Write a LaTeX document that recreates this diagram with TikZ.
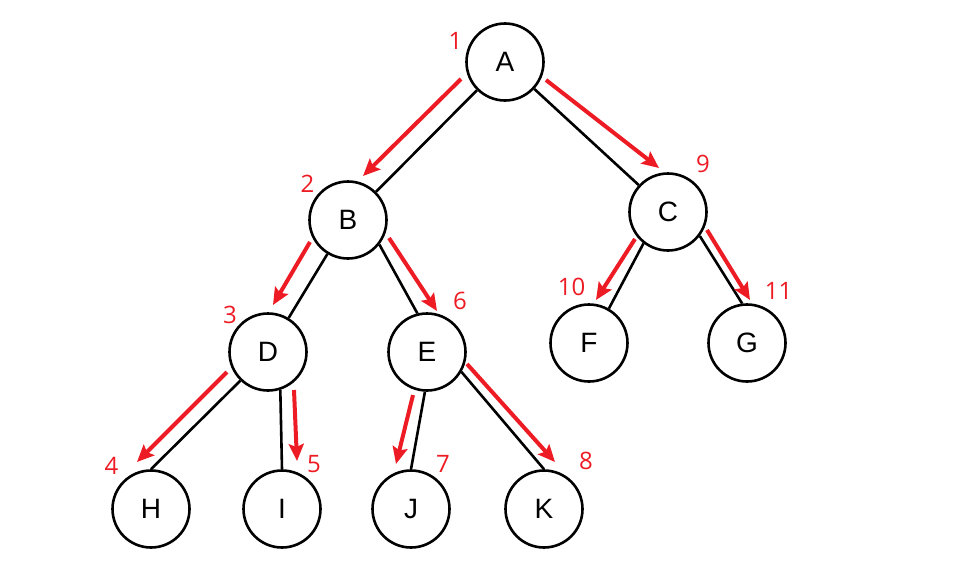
\documentclass[tikz,border=0pt]{standalone}
\usepackage{fontspec}
\setmainfont{Liberation Sans}
\newfontfamily\numfont{Open Sans}
\usetikzlibrary{arrows.meta,calc}
\definecolor{tred}{RGB}{237,28,36}
\begin{document}
\begin{tikzpicture}[x=1pt,y=-1pt,
  vert/.style={circle,draw=black,line width=2.6pt,minimum size=77pt,inner sep=0pt,font=\fontsize{28}{30}\selectfont},
  edge/.style={draw=black,line width=2.6pt},
  trav/.style={draw=tred,line width=4pt,-{Stealth[length=17pt,width=15pt,inset=3pt]}},
  num/.style={text=tred,inner sep=0pt,font=\numfont\fontsize{24}{26}\selectfont}]
\useasboundingbox (0,0) rectangle (979,573);
% nodes
\node[vert] (A) at (505,62) {A};
\node[vert] (B) at (348,220) {B};
\node[vert] (C) at (668,212) {C};
\node[vert] (D) at (268,352) {D};
\node[vert] (E) at (427,352) {E};
\node[vert] (F) at (589,343) {F};
\node[vert] (G) at (747,343) {G};
\node[vert] (H) at (151,509) {H};
\node[vert] (I) at (282,509) {I};
\node[vert] (J) at (411,509) {J};
\node[vert] (K) at (544,509) {K};
% tree edges
\draw[edge] (A) -- (B);
\draw[edge] (A) -- (C);
\draw[edge] (B) -- (D);
\draw[edge] (B.-38) -- (E.104);
\draw[edge] (C.-128) -- (F.60);
\draw[edge] (C.-37) -- (G.97);
\draw[edge] (D.-134) -- (H.90);
\draw[edge] (D.-72) -- (I.90);
\draw[edge] (E.-93) -- (J.90);
\draw[edge] (E.-30) -- (K.90);
% traversal arrow end points
\coordinate (ab1) at (461,79);  \coordinate (ab2) at (363,176);
\coordinate (ac1) at (546,80);  \coordinate (ac2) at (659,168);
\coordinate (bd1) at (310,242); \coordinate (bd2) at (273,305);
\coordinate (be1) at (389,238); \coordinate (be2) at (437,311);
\coordinate (dh1) at (227,372); \coordinate (dh2) at (137,462);
\coordinate (di1) at (294,390); \coordinate (di2) at (297,461);
\coordinate (ej1) at (413,395); \coordinate (ej2) at (396,464);
\coordinate (ek1) at (467,364); \coordinate (ek2) at (555,462);
\coordinate (cf1) at (635,239); \coordinate (cf2) at (596,300);
\coordinate (cg1) at (707,230); \coordinate (cg2) at (750,300);
\draw[trav] (ab1) -- (ab2);
\draw[trav] (bd1) -- (bd2);
\draw[trav] (dh1) -- (dh2);
\draw[trav] (di1) -- (di2);
\draw[trav] (be1) -- (be2);
\draw[trav] (ej1) -- (ej2);
\draw[trav] (ek1) -- (ek2);
\draw[trav] (ac1) -- (ac2);
\draw[trav] (cf1) -- (cf2);
\draw[trav] (cg1) -- (cg2);
% order labels
\node[num] (n1) at (455.5,41) {1};
\node[num] (n2) at (307.5,184) {2};
\node[num] (n3) at (230,315) {3};
\node[num] (n4) at (111.5,466) {4};
\node[num] (n5) at (314,464) {5};
\node[num] (n6) at (460,301) {6};
\node[num] (n7) at (443,464) {7};
\node[num] (n8) at (586,460.5) {8};
\node[num] (n9) at (703,164) {9};
\node[num] (n10) at (571.5,287) {10};
\node[num] (n11) at (778.5,291) {11};
\end{tikzpicture}
\end{document}
